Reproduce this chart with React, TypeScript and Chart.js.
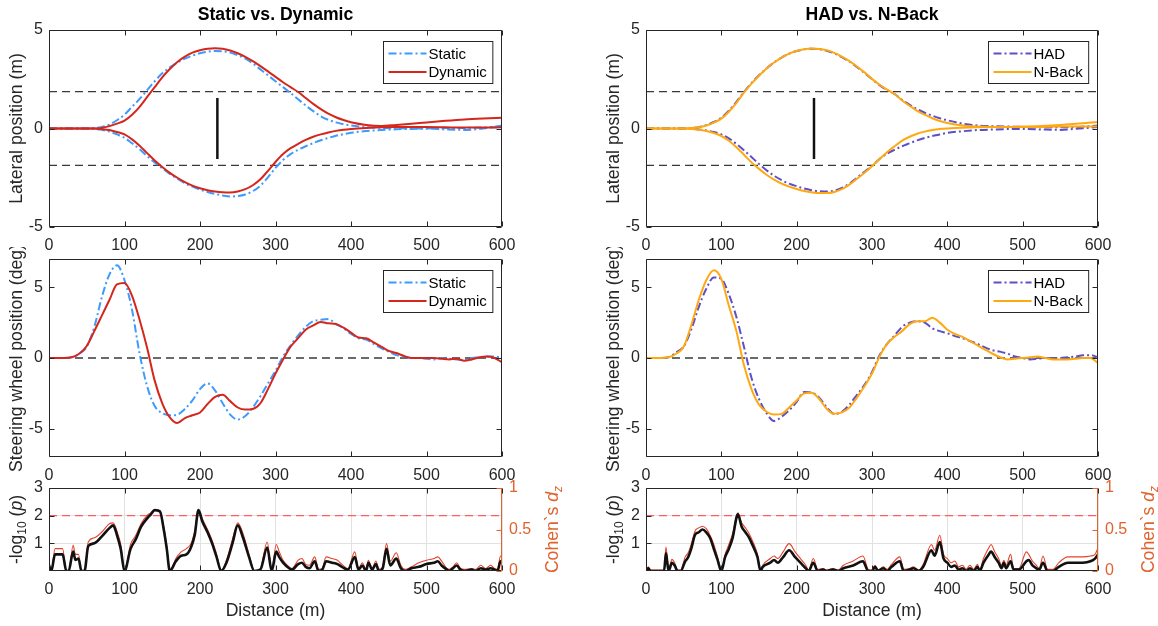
import React, { useEffect, useRef } from 'react';
import { Chart, registerables } from 'chart.js';

Chart.register(...registerables);

const FONT = '"Liberation Sans", Arial, Helvetica, sans-serif';
const INK = '#262626';
const AX_ORANGE = '#E0622E';
const LABEL_SIZE = 17.6;

// ---------- shared ----------
const X_TICKS = [0, 100, 200, 300, 400, 500, 600];
const LAT_TICKS = [-5, 0, 5];
const STEER_TICKS = [-5, 0, 5];
const P_TICKS = [1, 2, 3];
const D_TICKS = [0, 0.5, 1];
const REF_X = [0, 600];
const LANE_EDGE = [1.875, 1.875];
const LANE_EDGE_NEG = [-1.875, -1.875];
const ZERO_LINE = [0, 0];
const MARKER_X = [223, 223];
const MARKER_Y = [-1.55, 1.55];
const P_THRESHOLD = [2, 2];

// ---------- lateral position ----------
const LAT_X = [0, 25, 50, 60, 70, 80, 90, 100, 110, 120, 130, 140, 150, 160, 170, 180, 190, 200, 210, 220, 230, 240, 250, 260, 270, 280, 290, 300, 310, 320, 330, 340, 350, 360, 370, 380, 390, 400, 420, 440, 460, 480, 500, 525, 550, 575, 600];
const STATIC_UP = [0, 0, 0, 0.02, 0.08, 0.2, 0.42, 0.7, 1.1, 1.5, 1.95, 2.4, 2.8, 3.1, 3.35, 3.55, 3.7, 3.82, 3.9, 3.93, 3.92, 3.85, 3.72, 3.55, 3.3, 3.0, 2.7, 2.4, 2.1, 1.8, 1.48, 1.17, 0.88, 0.62, 0.44, 0.31, 0.22, 0.15, 0.07, 0.03, 0.02, 0, 0, -0.05, -0.07, 0, 0.15];
const DYN_UP = [0, 0, 0, 0, 0.03, 0.12, 0.25, 0.4, 0.7, 1.1, 1.6, 2.1, 2.6, 3.02, 3.38, 3.65, 3.85, 3.97, 4.05, 4.07, 4.05, 3.96, 3.82, 3.64, 3.42, 3.17, 2.9, 2.62, 2.35, 2.1, 1.85, 1.55, 1.25, 0.98, 0.75, 0.57, 0.43, 0.32, 0.18, 0.13, 0.18, 0.24, 0.31, 0.39, 0.46, 0.51, 0.55];
const STATIC_LOW = [0, 0, 0, -0.02, -0.07, -0.15, -0.3, -0.47, -0.75, -1.05, -1.4, -1.72, -2.02, -2.3, -2.55, -2.78, -2.95, -3.1, -3.22, -3.32, -3.4, -3.45, -3.43, -3.35, -3.18, -2.9, -2.48, -2.0, -1.6, -1.3, -1.08, -0.9, -0.74, -0.6, -0.48, -0.37, -0.29, -0.22, -0.13, -0.08, -0.04, -0.02, 0, 0.02, 0.03, 0.05, 0.08];
const DYN_LOW = [0, 0, 0, 0, -0.03, -0.08, -0.18, -0.3, -0.55, -0.87, -1.25, -1.62, -1.95, -2.25, -2.5, -2.72, -2.9, -3.03, -3.13, -3.2, -3.24, -3.25, -3.2, -3.08, -2.88, -2.58, -2.15, -1.7, -1.3, -1.0, -0.78, -0.58, -0.42, -0.3, -0.2, -0.12, -0.06, -0.02, 0.03, 0.06, 0.07, 0.07, 0.07, 0.06, 0.05, 0.05, 0.06];
const HAD_UP = [0, 0, 0, 0.02, 0.07, 0.17, 0.33, 0.55, 0.9, 1.35, 1.85, 2.3, 2.7, 3.05, 3.35, 3.6, 3.8, 3.93, 4.02, 4.05, 4.03, 3.95, 3.82, 3.62, 3.4, 3.12, 2.82, 2.5, 2.2, 1.95, 1.75, 1.45, 1.2, 0.98, 0.8, 0.65, 0.52, 0.42, 0.25, 0.15, 0.12, 0.1, 0.08, 0.06, 0.06, 0.08, 0.15];
const NBACK_UP = [0, 0, 0, 0.02, 0.06, 0.15, 0.3, 0.5, 0.85, 1.3, 1.82, 2.28, 2.68, 3.05, 3.35, 3.6, 3.8, 3.93, 4.02, 4.06, 4.04, 3.97, 3.84, 3.65, 3.42, 3.15, 2.85, 2.52, 2.22, 1.97, 1.75, 1.42, 1.15, 0.9, 0.7, 0.52, 0.38, 0.28, 0.15, 0.1, 0.08, 0.08, 0.1, 0.13, 0.18, 0.25, 0.33];
const HAD_LOW = [0, 0, 0, -0.02, -0.05, -0.1, -0.18, -0.3, -0.5, -0.78, -1.1, -1.45, -1.8, -2.12, -2.4, -2.62, -2.8, -2.93, -3.05, -3.13, -3.18, -3.2, -3.15, -3.02, -2.8, -2.5, -2.2, -1.9, -1.55, -1.28, -1.08, -0.9, -0.75, -0.6, -0.48, -0.38, -0.3, -0.22, -0.14, -0.08, -0.05, -0.03, -0.02, -0.05, -0.07, 0, 0.08];
const NBACK_LOW = [0, 0, 0, -0.02, -0.06, -0.13, -0.23, -0.38, -0.62, -0.95, -1.33, -1.72, -2.05, -2.35, -2.6, -2.8, -2.95, -3.07, -3.17, -3.24, -3.28, -3.28, -3.22, -3.08, -2.85, -2.55, -2.25, -1.92, -1.55, -1.2, -0.9, -0.62, -0.42, -0.27, -0.16, -0.08, -0.03, 0, 0.04, 0.06, 0.07, 0.07, 0.07, 0.08, 0.1, 0.1, 0.1];

// ---------- steering wheel ----------
const STEER_X = [0, 10, 20, 30, 40, 50, 60, 70, 80, 90, 100, 110, 120, 130, 140, 150, 160, 170, 180, 190, 200, 210, 220, 230, 240, 250, 260, 270, 280, 290, 300, 310, 320, 330, 340, 350, 360, 370, 380, 390, 400, 410, 420, 430, 440, 450, 460, 470, 480, 490, 500, 510, 520, 530, 540, 550, 560, 570, 580, 590, 600];
const STATIC_STEER = [0, 0, 0, 0.05, 0.3, 0.8, 2.2, 4.3, 5.9, 6.55, 5.5, 3.4, 0.3, -2.0, -3.4, -3.9, -4.05, -4.0, -3.6, -3.0, -2.2, -1.8, -2.3, -3.2, -4.0, -4.35, -4.1, -3.5, -2.7, -1.8, -0.9, 0.1, 0.9, 1.6, 2.2, 2.6, 2.7, 2.75, 2.4, 2.1, 1.7, 1.4, 1.3, 1.0, 0.7, 0.45, 0.2, 0.1, 0.0, 0.0, -0.05, -0.1, 0.0, -0.05, -0.1, -0.15, 0.0, 0.05, 0.1, 0.1, 0.05];
const DYN_STEER = [0, 0, 0, 0.05, 0.3, 0.85, 1.9, 3.0, 4.1, 5.2, 5.3, 4.4, 2.7, 0.7, -1.6, -3.2, -4.2, -4.6, -4.25, -4.05, -3.85, -3.25, -2.75, -2.6, -3.05, -3.5, -3.65, -3.6, -3.2, -2.2, -1.1, -0.1, 0.8, 1.4, 2.0, 2.3, 2.55, 2.45, 2.4, 2.15, 1.8, 1.45, 1.4, 1.1, 0.8, 0.5, 0.35, 0.15, 0.0, 0.0, 0.0, 0.0, -0.05, -0.1, -0.05, -0.2, -0.1, 0.05, 0.1, 0.0, -0.3];
const NBACK_STEER = [0, 0, 0, 0.05, 0.3, 0.8, 2.3, 4.1, 5.5, 6.2, 5.6, 3.7, 1.9, -0.5, -2.2, -3.3, -3.8, -4.0, -3.95, -3.5, -3.0, -2.5, -2.45, -2.9, -3.6, -3.95, -3.85, -3.5, -2.8, -2.0, -1.1, 0.1, 1.0, 1.5, 1.9, 2.4, 2.6, 2.6, 2.85, 2.5, 2.0, 1.7, 1.5, 1.2, 0.9, 0.6, 0.3, 0.05, -0.1, -0.05, 0.0, 0.05, 0.1, 0.0, -0.1, -0.1, -0.1, -0.05, 0.0, 0.0, -0.35];
const HAD_STEER = [0, 0, 0, 0.05, 0.4, 0.8, 2.0, 3.6, 4.9, 5.7, 5.6, 4.5, 2.9, 0.8, -1.4, -2.9, -3.9, -4.45, -4.15, -3.7, -3.1, -2.4, -2.45, -2.8, -3.5, -3.95, -3.8, -3.3, -2.6, -1.9, -1.0, 0.2, 1.0, 1.6, 2.2, 2.5, 2.6, 2.5, 2.1, 1.9, 1.75, 1.55, 1.4, 1.2, 1.0, 0.75, 0.55, 0.45, 0.3, 0.1, 0.0, -0.1, -0.05, 0.0, 0.0, 0.0, 0.05, 0.1, 0.2, 0.2, 0.05];

// ---------- statistics: Static vs. Dynamic ----------
const SD_X = [0, 3, 8, 18, 23, 26, 32, 35, 39, 43, 47, 52, 60, 70, 80, 85, 90, 95, 100, 108, 115, 122, 130, 135, 140, 147, 152, 156, 160, 168, 175, 182, 188, 193, 198, 203, 210, 216, 222, 228, 235, 243, 250, 257, 265, 272, 280, 289, 295, 301, 305, 310, 318, 322, 330, 335, 340, 345, 352, 357, 362, 367, 375, 382, 388, 396, 405, 410, 415, 420, 423, 428, 433, 437, 442, 447, 452, 460, 466, 472, 480, 490, 500, 510, 515, 520, 527, 530, 535, 540, 545, 550, 560, 565, 572, 578, 585, 590, 594, 598, 600];
const SD_LOGP = [0.2, 0, 0.6, 0.6, 0, 0, 0.7, 0.4, 0.45, 0, 0, 0.9, 1.0, 1.25, 1.55, 1.65, 1.3, 0.8, 0, 0.8, 1.15, 1.6, 1.9, 2.05, 2.2, 2.15, 1.5, 0.8, 0, 0.35, 0.55, 0.6, 0.85, 1.3, 2.2, 1.8, 1.4, 1.0, 0.5, 0, 0.3, 1.0, 1.65, 1.2, 0.5, 0, 0.05, 0.85, 0, 0.7, 0.5, 0.3, 0.1, 0.05, 0.25, 0.3, 0.15, 0.1, 0.35, 0, 0.05, 0.35, 0.3, 0.25, 0.15, 0.05, 0.5, 0.05, 0.2, 0, 0.3, 0.05, 0.25, 0, 0.1, 0.8, 0.2, 0.45, 0.1, 0, 0.1, 0.15, 0.25, 0.3, 0.35, 0.2, 0.05, 0, 0.1, 0.2, 0.05, 0, 0.05, 0, 0.1, 0.05, 0.1, 0.05, 0, 0.35, 0.3];
const SD_DZ = [0.12, 0, 0.27, 0.27, 0, 0, 0.31, 0.2, 0.2, 0, 0, 0.35, 0.4, 0.47, 0.57, 0.58, 0.48, 0.32, 0, 0.32, 0.43, 0.57, 0.67, 0.7, 0.74, 0.73, 0.53, 0.3, 0, 0.15, 0.23, 0.27, 0.33, 0.48, 0.73, 0.63, 0.5, 0.37, 0.2, 0, 0.13, 0.38, 0.58, 0.45, 0.2, 0, 0.03, 0.35, 0.02, 0.32, 0.23, 0.13, 0.05, 0.03, 0.13, 0.15, 0.08, 0.07, 0.17, 0.02, 0.03, 0.17, 0.15, 0.13, 0.08, 0.03, 0.23, 0.03, 0.1, 0.02, 0.13, 0.03, 0.12, 0.02, 0.05, 0.33, 0.12, 0.22, 0.07, 0.02, 0.05, 0.1, 0.13, 0.15, 0.17, 0.12, 0.03, 0.02, 0.05, 0.1, 0.03, 0.02, 0.03, 0.02, 0.07, 0.03, 0.07, 0.03, 0.02, 0.18, 0.17];

// ---------- statistics: HAD vs. N-Back ----------
const HN_X = [0, 3, 6, 20, 24, 26.5, 30, 34.5, 38, 42, 46, 52, 56, 60, 65, 70, 75, 80, 85, 90, 95, 100, 105, 110, 115, 122, 127, 132, 137, 142, 148, 152, 155, 165, 170, 175, 182, 190, 198, 205, 212, 216, 222, 228, 235, 240, 248, 255, 262, 275, 288, 295, 300, 304, 308, 315, 320, 326, 337, 342, 350, 355, 362, 368, 379, 383, 390, 395, 400, 405, 410, 415, 420, 425, 430, 435, 440, 443, 448, 455, 458, 463, 468, 472, 475, 478, 484, 488, 495, 505, 508, 513, 518, 522, 527, 533, 540, 548, 560, 570, 580, 590, 596, 600];
const HN_LOGP = [0, 0.1, 0, 0, 0, 0.65, 0, 0.3, 0.2, 0, 0, 0.35, 0.5, 0.8, 1.3, 1.4, 1.5, 1.4, 1.2, 0.8, 0.4, 0, 0.5, 0.8, 1.2, 2.05, 1.6, 1.4, 1.2, 0.9, 0.5, 0, 0.15, 0.3, 0.4, 0.3, 0.5, 0.75, 0.5, 0.3, 0.1, 0, 0.3, 0, 0.05, 0, 0.05, 0, 0.1, 0.2, 0.35, 0, 0, 0.15, 0, 0.1, 0, 0.15, 0.35, 0, 0.05, 0.1, 0, 0.15, 0.75, 0.55, 1.05, 0.45, 0.3, 0.15, 0.2, 0.05, 0.1, 0, 0.1, 0, 0.15, 0, 0.3, 0.6, 0.7, 0.5, 0.3, 0.1, 0.3, 0.1, 0.35, 0.05, 0.05, 0.35, 0.4, 0.2, 0.1, 0.05, 0.3, 0, 0, 0.15, 0.3, 0.3, 0.3, 0.35, 0.45, 0.6];
const HN_DZ = [0, 0.05, 0.01, 0.01, 0.02, 0.29, 0.02, 0.14, 0.1, 0.01, 0.01, 0.17, 0.22, 0.32, 0.48, 0.52, 0.54, 0.51, 0.43, 0.32, 0.17, 0, 0.2, 0.32, 0.45, 0.7, 0.58, 0.52, 0.45, 0.35, 0.2, 0, 0.07, 0.15, 0.18, 0.15, 0.23, 0.33, 0.23, 0.15, 0.07, 0.01, 0.15, 0.02, 0.03, 0.01, 0.03, 0.01, 0.07, 0.12, 0.18, 0.02, 0.01, 0.07, 0.01, 0.05, 0.02, 0.08, 0.17, 0.02, 0.03, 0.05, 0.01, 0.08, 0.32, 0.25, 0.43, 0.2, 0.15, 0.1, 0.12, 0.05, 0.07, 0.02, 0.07, 0.02, 0.08, 0.02, 0.15, 0.28, 0.32, 0.23, 0.15, 0.07, 0.13, 0.07, 0.2, 0.03, 0.03, 0.23, 0.2, 0.12, 0.07, 0.03, 0.18, 0.02, 0.02, 0.1, 0.17, 0.17, 0.17, 0.18, 0.2, 0.28];

// ---------- colours ----------
const C_STATIC = '#3D9BFF';
const C_DYNAMIC = '#D5261C';
const C_HAD = '#5C50C9';
const C_NBACK = '#FFA912';
const C_REF = '#3A3A3A';
const C_P = '#111111';
const C_D = '#E5412B';
const C_THR = '#FF5C5C';

const DASHDOT = [8, 3, 2, 3];
const DASH = [8, 5];

type Seg = { t: string; size?: number; italic?: boolean; dy?: number };

function ds(xs: number[], ys: number[], color: string, width: number, dash: number[] = [], axis = 'y', smooth = true) {
  return {
    data: xs.map((x, i) => ({ x, y: ys[i] })),
    borderColor: color,
    backgroundColor: color,
    borderWidth: width,
    borderDash: dash,
    pointRadius: 0,
    fill: false,
    yAxisID: axis,
    tension: smooth ? 0.4 : 0,
    cubicInterpolationMode: smooth ? 'monotone' : 'default',
    borderCapStyle: 'butt',
    borderJoinStyle: 'round',
  };
}

function drawSegs(ctx: CanvasRenderingContext2D, segs: Seg[], x: number, y: number, color: string) {
  ctx.save();
  ctx.translate(x, y);
  ctx.rotate(-Math.PI / 2);
  ctx.fillStyle = color;
  ctx.textBaseline = 'alphabetic';
  ctx.textAlign = 'left';
  const fontOf = (s: Seg) => `${s.italic ? 'italic ' : ''}${s.size || LABEL_SIZE}px ${FONT}`;
  let total = 0;
  for (const s of segs) { ctx.font = fontOf(s); total += ctx.measureText(s.t).width; }
  let cx = -total / 2;
  for (const s of segs) {
    ctx.font = fontOf(s);
    ctx.fillText(s.t, cx, 6 + (s.dy || 0));
    cx += ctx.measureText(s.t).width;
  }
  ctx.restore();
}

type Spec = {
  w: number; h: number;
  area: { left: number; top: number; right: number; bottom: number };
  title?: string;
  ylabel: Seg[];
  rightLabel?: Seg[];
  xlabel?: string;
  yMin: number; yMax: number; yTicks: number[];
  grid?: boolean;
  right?: boolean;
  legend?: { label: string; color: string; dash: number[] }[];
  datasets: any[];
};

function makeConfig(p: Spec): any {
  const tickFont = { family: FONT, size: 16 };
  const scales: any = {
    x: {
      type: 'linear', min: 0, max: 600,
      afterBuildTicks: (s: any) => { s.ticks = X_TICKS.map((v) => ({ value: v })); },
      afterFit: (s: any) => { s.height = p.h - p.area.bottom; s.paddingLeft = 0; s.paddingRight = 0; },
      ticks: { font: tickFont, color: INK, padding: 9, maxRotation: 0, autoSkip: false },
      grid: { display: !!p.grid, color: '#E2E2E2', drawTicks: false, lineWidth: 1 },
      border: { display: false },
    },
    y: {
      type: 'linear', position: 'left', min: p.yMin, max: p.yMax,
      afterBuildTicks: (s: any) => { s.ticks = p.yTicks.map((v) => ({ value: v })); },
      afterFit: (s: any) => { s.width = p.area.left; s.paddingTop = 0; s.paddingBottom = 0; },
      ticks: { font: tickFont, color: INK, padding: 6, autoSkip: false },
      grid: { display: !!p.grid, color: '#E2E2E2', drawTicks: false, lineWidth: 1 },
      border: { display: false },
    },
  };
  if (p.right) {
    scales.y1 = {
      type: 'linear', position: 'right', min: 0, max: 1,
      afterBuildTicks: (s: any) => { s.ticks = D_TICKS.map((v) => ({ value: v })); },
      afterFit: (s: any) => { s.width = p.w - p.area.right; s.paddingTop = 0; s.paddingBottom = 0; },
      ticks: { font: tickFont, color: AX_ORANGE, padding: 7, autoSkip: false, callback: (v: any) => String(v) },
      grid: { display: false, drawTicks: false },
      border: { display: false },
    };
  }

  const decor = {
    id: 'decor',
    afterDraw(chart: any) {
      const { ctx, chartArea: a } = chart;
      const xs = chart.scales.x;
      const ys = chart.scales.y;
      ctx.save();
      const L = Math.round(a.left) + 0.5, R = Math.round(a.right) - 0.5;
      const T = Math.round(a.top) + 0.5, B = Math.round(a.bottom) - 0.5;
      ctx.lineWidth = 1;
      ctx.strokeStyle = INK;
      ctx.beginPath();
      ctx.moveTo(L, T); ctx.lineTo(R, T);
      ctx.moveTo(L, B); ctx.lineTo(R, B);
      ctx.moveTo(L, T); ctx.lineTo(L, B);
      if (!p.right) { ctx.moveTo(R, T); ctx.lineTo(R, B); }
      for (const v of X_TICKS) {
        const px = Math.round(xs.getPixelForValue(v)) + 0.5;
        ctx.moveTo(px, B); ctx.lineTo(px, B - 5);
        ctx.moveTo(px, T); ctx.lineTo(px, T + 5);
      }
      for (const v of p.yTicks) {
        const py = Math.round(ys.getPixelForValue(v)) + 0.5;
        ctx.moveTo(L, py); ctx.lineTo(L + 5, py);
        if (!p.right) { ctx.moveTo(R, py); ctx.lineTo(R - 5, py); }
      }
      ctx.stroke();
      if (p.right) {
        const y1 = chart.scales.y1;
        ctx.strokeStyle = AX_ORANGE;
        ctx.beginPath();
        ctx.moveTo(R, T); ctx.lineTo(R, B);
        for (const v of D_TICKS) {
          const py = Math.round(y1.getPixelForValue(v)) + 0.5;
          ctx.moveTo(R, py); ctx.lineTo(R - 5, py);
        }
        ctx.stroke();
      }
      const cx = (a.left + a.right) / 2;
      const cy = (a.top + a.bottom) / 2;
      if (p.title) {
        ctx.font = `bold ${LABEL_SIZE}px ${FONT}`;
        ctx.fillStyle = '#000';
        ctx.textAlign = 'center';
        ctx.textBaseline = 'middle';
        ctx.fillText(p.title, cx, 15);
      }
      if (p.xlabel) {
        ctx.font = `${LABEL_SIZE}px ${FONT}`;
        ctx.fillStyle = INK;
        ctx.textAlign = 'center';
        ctx.textBaseline = 'middle';
        ctx.fillText(p.xlabel, cx, a.bottom + 40);
      }
      drawSegs(ctx, p.ylabel, a.left - 33, cy, INK);
      if (p.rightLabel) drawSegs(ctx, p.rightLabel, a.right + 50, cy, AX_ORANGE);
      if (p.legend) {
        ctx.font = `15px ${FONT}`;
        let tw = 0;
        for (const e of p.legend) tw = Math.max(tw, ctx.measureText(e.label).width);
        const bw = 46 + tw + 5;
        const bh = 42;
        const bx = Math.round(a.right - 10 - bw) + 0.5;
        const by = Math.round(a.top + 11) + 0.5;
        ctx.fillStyle = '#fff';
        ctx.fillRect(bx, by, bw, bh);
        ctx.strokeStyle = INK;
        ctx.lineWidth = 1;
        ctx.setLineDash([]);
        ctx.strokeRect(bx, by, bw, bh);
        p.legend.forEach((e, i) => {
          const ey = by + 12 + i * 18.5;
          ctx.strokeStyle = e.color;
          ctx.lineWidth = 2;
          ctx.setLineDash(e.dash);
          ctx.beginPath();
          ctx.moveTo(bx + 5, ey);
          ctx.lineTo(bx + 43, ey);
          ctx.stroke();
          ctx.setLineDash([]);
          ctx.fillStyle = '#000';
          ctx.textAlign = 'left';
          ctx.textBaseline = 'middle';
          ctx.fillText(e.label, bx + 45, ey + 1);
        });
      }
      ctx.restore();
    },
  };

  return {
    type: 'line',
    data: { datasets: p.datasets },
    options: {
      responsive: false,
      maintainAspectRatio: false,
      animation: false,
      events: [],
      layout: { padding: { top: p.area.top, left: 0, bottom: 0, right: p.right ? 0 : p.w - p.area.right } },
      plugins: { legend: { display: false }, tooltip: { enabled: false }, title: { display: false } },
      scales,
    },
    plugins: [decor],
  };
}

function Panel({ left, top, spec }: { left: number; top: number; spec: Spec }) {
  const ref = useRef<HTMLCanvasElement>(null);
  useEffect(() => {
    const chart = new Chart(ref.current as HTMLCanvasElement, makeConfig(spec));
    return () => chart.destroy();
  }, []);
  return (
    <canvas
      ref={ref}
      width={spec.w}
      height={spec.h}
      style={{ position: 'absolute', left, top, width: spec.w, height: spec.h }}
    />
  );
}

const LAT_LABEL: Seg[] = [{ t: 'Lateral position (m)' }];
const STEER_LABEL: Seg[] = [{ t: 'Steering wheel position (deg)' }];
const P_LABEL: Seg[] = [{ t: '-log' }, { t: '10', size: 12, dy: 4 }, { t: ' (' }, { t: 'p', italic: true }, { t: ')' }];
const D_LABEL: Seg[] = [{ t: 'Cohen`s ' }, { t: 'd', italic: true }, { t: 'z', italic: true, size: 12, dy: 4 }];

function lateralSpec(left: boolean): Spec {
  const [aName, bName, aColor, bColor] = left
    ? ['Static', 'Dynamic', C_STATIC, C_DYNAMIC]
    : ['HAD', 'N-Back', C_HAD, C_NBACK];
  const [aUp, aLow, bUp, bLow] = left
    ? [STATIC_UP, STATIC_LOW, DYN_UP, DYN_LOW]
    : [HAD_UP, HAD_LOW, NBACK_UP, NBACK_LOW];
  return {
    w: left ? 578 : 580, h: 252,
    area: left ? { left: 49, top: 30, right: 502, bottom: 227 } : { left: 68, top: 30, right: 520, bottom: 227 },
    title: left ? 'Static vs. Dynamic' : 'HAD vs. N-Back',
    ylabel: LAT_LABEL,
    yMin: -5, yMax: 5, yTicks: LAT_TICKS,
    legend: [
      { label: aName, color: aColor, dash: DASHDOT },
      { label: bName, color: bColor, dash: [] },
    ],
    datasets: [
      ds(LAT_X, bUp, bColor, 2),
      ds(LAT_X, bLow, bColor, 2),
      ds(LAT_X, aUp, aColor, 2, DASHDOT),
      ds(LAT_X, aLow, aColor, 2, DASHDOT),
      ds(MARKER_X, MARKER_Y, '#111', 2.5, [], 'y', false),
      ds(REF_X, LANE_EDGE, C_REF, 1.3, DASH, 'y', false),
      ds(REF_X, LANE_EDGE_NEG, C_REF, 1.3, DASH, 'y', false),
    ],
  };
}

function steerSpec(left: boolean): Spec {
  const [aName, bName, aColor, bColor] = left
    ? ['Static', 'Dynamic', C_STATIC, C_DYNAMIC]
    : ['HAD', 'N-Back', C_HAD, C_NBACK];
  const [aY, bY] = left ? [STATIC_STEER, DYN_STEER] : [HAD_STEER, NBACK_STEER];
  return {
    w: left ? 578 : 580, h: 237,
    area: left ? { left: 49, top: 12, right: 502, bottom: 210 } : { left: 68, top: 12, right: 520, bottom: 210 },
    ylabel: STEER_LABEL,
    yMin: -7, yMax: 7, yTicks: STEER_TICKS,
    legend: [
      { label: aName, color: aColor, dash: DASHDOT },
      { label: bName, color: bColor, dash: [] },
    ],
    datasets: [
      ds(STEER_X, bY, bColor, 2),
      ds(STEER_X, aY, aColor, 2, DASHDOT),
      ds(REF_X, ZERO_LINE, C_REF, 1.3, DASH, 'y', false),
    ],
  };
}

function statSpec(left: boolean): Spec {
  const [xs, lp, dz] = left ? [SD_X, SD_LOGP, SD_DZ] : [HN_X, HN_LOGP, HN_DZ];
  return {
    w: left ? 578 : 580, h: 148,
    area: left ? { left: 49, top: 10, right: 502, bottom: 93 } : { left: 68, top: 10, right: 520, bottom: 93 },
    ylabel: P_LABEL,
    rightLabel: D_LABEL,
    xlabel: 'Distance (m)',
    yMin: 0, yMax: 3, yTicks: P_TICKS,
    grid: true,
    right: true,
    datasets: [
      ds(xs, lp, C_P, 2.6),
      ds(xs, dz, C_D, 1.1, [], 'y1'),
      ds(REF_X, P_THRESHOLD, C_THR, 1.3, DASH, 'y', false),
    ],
  };
}

export default function App() {
  return (
    <div style={{ position: 'absolute', left: 0, top: 0, width: 1158, height: 626, background: '#fff', overflow: 'hidden' }}>
      <Panel left={0} top={0} spec={lateralSpec(true)} />
      <Panel left={578} top={0} spec={lateralSpec(false)} />
      <Panel left={0} top={247} spec={steerSpec(true)} />
      <Panel left={578} top={247} spec={steerSpec(false)} />
      <Panel left={0} top={478} spec={statSpec(true)} />
      <Panel left={578} top={478} spec={statSpec(false)} />
    </div>
  );
}
